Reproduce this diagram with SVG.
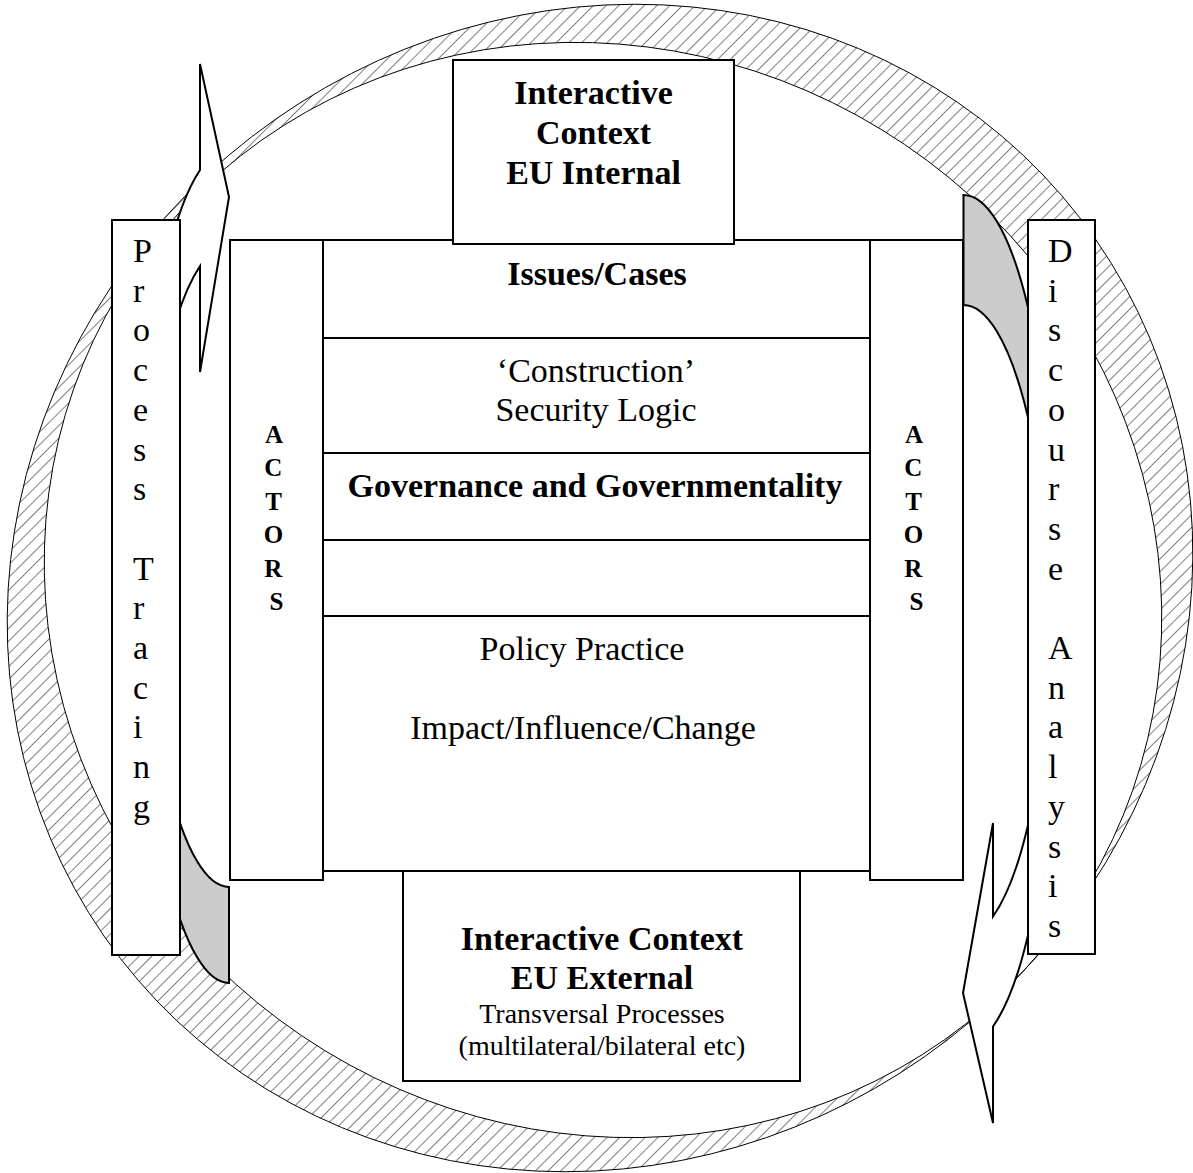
<svg xmlns="http://www.w3.org/2000/svg" width="1193" height="1173" viewBox="0 0 1193 1173">
  <defs>
    <pattern id="hatch" width="9" height="9" patternUnits="userSpaceOnUse" patternTransform="rotate(45)">
      <line x1="0" y1="-1" x2="0" y2="10" stroke="#000" stroke-width="1"/>
    </pattern>
    <style>
      .box { fill: #fff; stroke: #000; stroke-width: 2; }
      .ln { stroke: #000; stroke-width: 2; fill: none; }
      .arrow { fill: #fff; stroke: #000; stroke-width: 2; }
      .back { fill: #cccccc; stroke: #000; stroke-width: 2; }
      .b { font-family: "Liberation Serif", "Times New Roman", serif; font-weight: bold; font-size: 34px; text-anchor: middle; }
      .r { font-family: "Liberation Serif", "Times New Roman", serif; font-size: 34px; text-anchor: middle; }
      .s { font-family: "Liberation Serif", "Times New Roman", serif; font-size: 28px; text-anchor: middle; }
      .v { font-family: "Liberation Serif", "Times New Roman", serif; font-size: 34px; }
      .a { font-family: "Liberation Serif", "Times New Roman", serif; font-weight: bold; font-size: 25px; text-anchor: middle; }
    </style>
  </defs>

  <rect width="1193" height="1173" fill="#fff"/>

  <!-- hatched ring between two tilted ellipses (even-odd fill) -->
  <g id="ring">
    <path fill="url(#hatch)" fill-rule="evenodd" stroke="#000" stroke-width="1"
          d="M1079.5,217.4 A606,570 -37.7 1 1 120.5,958.6 A606,570 -37.7 1 1 1079.5,217.4 Z
             M1073.4,908.4 A568,538 34.1 1 1 132.6,271.6 A568,538 34.1 1 1 1073.4,908.4 Z"/>
  </g>

  <!-- curved arrows -->
  <g id="arrow-left">
    <path class="back" d="M229,983 A87,369 0 0 1 142,614 L142,518 A87,369 0 0 0 229,887 Z"/>
    <path class="arrow" d="M142,614 A87,369 0 0 1 200,266 L200,372 L229,197 L200,64 L200,170 A87,369 0 0 0 142,518 Z"/>
  </g>
  <g id="arrow-right">
    <path class="back" d="M963.5,195 A90,371 0 0 1 1053.5,566 L1053.5,676 A90,371 0 0 0 963.5,305 Z"/>
    <path class="arrow" d="M1053.5,566 A90,371 0 0 1 993,916.5 L993,823 L963,993 L993,1123 L993,1026.5 A90,371 0 0 0 1053.5,676 Z"/>
  </g>

  <!-- method columns -->
  <g id="process-tracing">
    <rect class="box" x="112" y="220" width="68" height="735"/>
    <text class="v">
      <tspan x="133" y="262">P</tspan>
      <tspan x="133" y="301.7">r</tspan>
      <tspan x="133" y="341.4">o</tspan>
      <tspan x="133" y="381.1">c</tspan>
      <tspan x="133" y="420.8">e</tspan>
      <tspan x="133" y="460.5">s</tspan>
      <tspan x="133" y="500.2">s</tspan>
      <tspan x="133" y="579.6">T</tspan>
      <tspan x="133" y="619.3">r</tspan>
      <tspan x="133" y="659">a</tspan>
      <tspan x="133" y="698.7">c</tspan>
      <tspan x="133" y="738.4">i</tspan>
      <tspan x="133" y="778.1">n</tspan>
      <tspan x="133" y="817.8">g</tspan>
    </text>
  </g>
  <g id="discourse-analysis">
    <rect class="box" x="1028" y="220" width="67" height="734"/>
    <text class="v">
      <tspan x="1048" y="262">D</tspan>
      <tspan x="1048" y="301.7">i</tspan>
      <tspan x="1048" y="341.4">s</tspan>
      <tspan x="1048" y="381.1">c</tspan>
      <tspan x="1048" y="420.8">o</tspan>
      <tspan x="1048" y="460.5">u</tspan>
      <tspan x="1048" y="500.2">r</tspan>
      <tspan x="1048" y="539.9">s</tspan>
      <tspan x="1048" y="579.6">e</tspan>
      <tspan x="1048" y="659">A</tspan>
      <tspan x="1048" y="698.7">n</tspan>
      <tspan x="1048" y="738.4">a</tspan>
      <tspan x="1048" y="778.1">l</tspan>
      <tspan x="1048" y="817.8">y</tspan>
      <tspan x="1048" y="857.5">s</tspan>
      <tspan x="1048" y="897.2">i</tspan>
      <tspan x="1048" y="936.9">s</tspan>
    </text>
  </g>

  <!-- actor columns -->
  <g id="actors-left">
    <rect class="box" x="230" y="240" width="93" height="640"/>
    <text class="a">
      <tspan x="276.5" y="443">A</tspan>
      <tspan x="276.5" y="476.4">C</tspan>
      <tspan x="276.5" y="509.8">T</tspan>
      <tspan x="276.5" y="543.2">O</tspan>
      <tspan x="276.5" y="576.6">R</tspan>
      <tspan x="276.5" y="610">S</tspan>
    </text>
  </g>
  <g id="actors-right">
    <rect class="box" x="870" y="240" width="93" height="640"/>
    <text class="a">
      <tspan x="916.5" y="443">A</tspan>
      <tspan x="916.5" y="476.4">C</tspan>
      <tspan x="916.5" y="509.8">T</tspan>
      <tspan x="916.5" y="543.2">O</tspan>
      <tspan x="916.5" y="576.6">R</tspan>
      <tspan x="916.5" y="610">S</tspan>
    </text>
  </g>

  <!-- central stack of layers -->
  <g id="core">
    <rect class="box" x="323" y="240" width="547" height="631"/>
    <line class="ln" x1="323" y1="338" x2="870" y2="338"/>
    <line class="ln" x1="323" y1="453" x2="870" y2="453"/>
    <line class="ln" x1="323" y1="540" x2="870" y2="540"/>
    <line class="ln" x1="323" y1="616" x2="870" y2="616"/>
  </g>
  <g id="issues">
    <text class="b" x="597" y="285">Issues/Cases</text>
  </g>
  <g id="construction">
    <text class="r" x="596" y="382">‘Construction’</text>
    <text class="r" x="596" y="421">Security Logic</text>
  </g>
  <g id="governance">
    <text class="b" x="595" y="497">Governance and Governmentality</text>
  </g>
  <g id="policy">
    <text class="r" x="582" y="660">Policy Practice</text>
    <text class="r" x="583" y="739">Impact/Influence/Change</text>
  </g>

  <!-- context boxes -->
  <g id="context-internal">
    <rect class="box" x="453" y="60" width="281" height="184"/>
    <text class="b" x="593.5" y="104">Interactive</text>
    <text class="b" x="593.5" y="144">Context</text>
    <text class="b" x="593.5" y="184">EU Internal</text>
  </g>
  <g id="context-external">
    <rect class="box" x="403" y="871" width="397" height="210"/>
    <text class="b" x="602" y="950">Interactive Context</text>
    <text class="b" x="602" y="989">EU External</text>
    <text class="s" x="602" y="1023">Transversal Processes</text>
    <text class="s" x="602" y="1055">(multilateral/bilateral etc)</text>
  </g>
</svg>
